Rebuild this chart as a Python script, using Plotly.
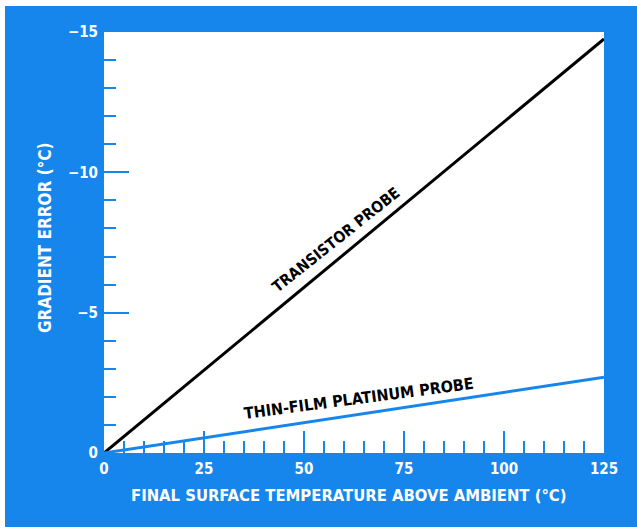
import plotly.graph_objects as go

# Data
temp = [0, 125]                 # final surface temperature above ambient (°C)
transistor = [0, -14.75]        # gradient error (°C)
thin_film = [0, -2.7]           # gradient error (°C)
x_ticks = [0, 25, 50, 75, 100, 125]
y_ticks = [0, -5, -10, -15]

BLUE = "rgb(22,134,236)"
FONT = "DejaVu Sans Condensed, Liberation Sans Narrow, Arial Narrow, sans-serif"

W, H = 637, 532
L, R, T, B = 104, 33, 32, 79
pw, ph = W - L - R, H - T - B

def px(xp):
    return (xp - L) / pw

def py(yp):
    return (H - B - yp) / ph

fig = go.Figure()
fig.add_trace(go.Scatter(x=temp, y=transistor, mode="lines",
                         line=dict(color="black", width=3), hoverinfo="skip"))
fig.add_trace(go.Scatter(x=temp, y=thin_film, mode="lines",
                         line=dict(color=BLUE, width=3), hoverinfo="skip"))

fig.update_layout(
    width=W, height=H,
    margin=dict(l=L, r=R, t=T, b=B),
    paper_bgcolor=BLUE, plot_bgcolor="white",
    showlegend=False,
    font=dict(family=FONT, color="white", size=14),
    xaxis=dict(range=[0, 125], tickvals=x_ticks, ticks="inside", ticklen=22,
               tickwidth=2, tickcolor=BLUE, showgrid=False, zeroline=False,
               showline=False, fixedrange=True, ticklabelstandoff=5,
               tickfont=dict(family=FONT, color="white", size=15, weight="bold"),
               minor=dict(dtick=5, ticks="inside", ticklen=12, tickwidth=2,
                          tickcolor=BLUE, showgrid=False)),
    yaxis=dict(range=[0, -15], tickvals=y_ticks, ticks="inside", ticklen=25,
               tickwidth=2, tickcolor=BLUE, showgrid=False, zeroline=False,
               showline=False, fixedrange=True, ticklabelstandoff=5,
               tickfont=dict(family=FONT, color="white", size=15, weight="bold"),
               minor=dict(dtick=1, ticks="inside", ticklen=12, tickwidth=2,
                          tickcolor=BLUE, showgrid=False)),
)

annotations = [
    dict(text="FINAL SURFACE TEMPERATURE ABOVE AMBIENT (°C)", xref="paper", yref="paper",
         x=px(349), y=py(496), xanchor="center", yanchor="middle", showarrow=False,
         font=dict(family=FONT, size=16.5, color="white", weight="bold")),
    dict(text="GRADIENT ERROR (°C)", xref="paper", yref="paper",
         x=px(45), y=py(238), xanchor="center", yanchor="middle", showarrow=False,
         textangle=-90,
         font=dict(family=FONT, size=17, color="white", weight="bold")),
    dict(text="TRANSISTOR PROBE", x=58, y=-7.6, showarrow=False, textangle=-38.5,
         font=dict(family=FONT, size=15.5, color="black", weight="bold")),
    dict(text="THIN-FILM PLATINUM PROBE", x=63.5, y=-1.95, showarrow=False, textangle=-7.5,
         font=dict(family=FONT, size=16, color="black", weight="bold")),
]
fig.update_layout(annotations=annotations)

# thin white scan border
shapes = [
    dict(type="rect", xref="paper", yref="paper", x0=px(0), x1=px(W), y0=py(6), y1=py(0),
         fillcolor="white", line=dict(width=0), layer="above"),
    dict(type="rect", xref="paper", yref="paper", x0=px(0), x1=px(5), y0=py(H), y1=py(0),
         fillcolor="white", line=dict(width=0), layer="above"),
    dict(type="rect", xref="paper", yref="paper", x0=px(0), x1=px(W), y0=py(H), y1=py(527),
         fillcolor="white", line=dict(width=0), layer="above"),
]
fig.update_layout(shapes=shapes)

fig.write_html("out.html", config={"displayModeBar": False},
               post_script="document.body.style.margin='0';document.body.style.overflow='hidden';")
